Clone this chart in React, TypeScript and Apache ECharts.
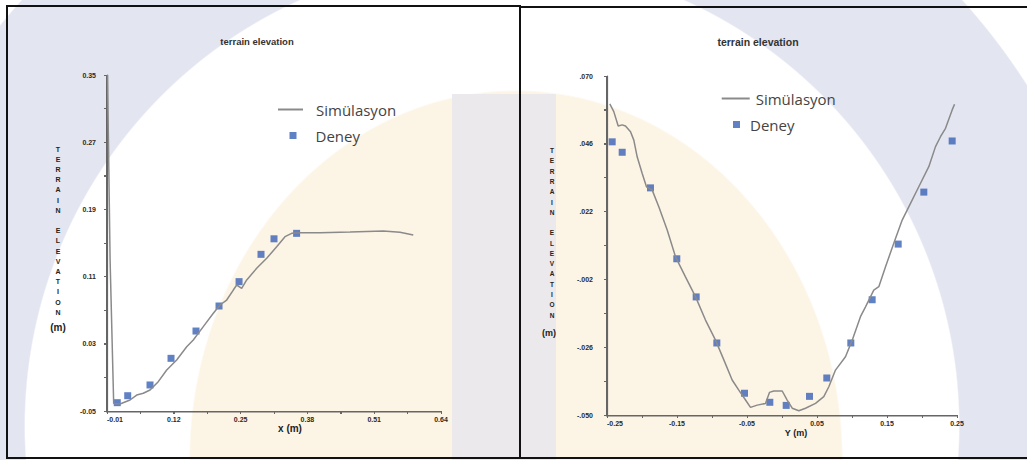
import React, { useEffect, useRef } from "react";
import * as echarts from "echarts";

// ---------- Left panel: x (m) ----------
const leftSimX = [-0.009, -0.004, 0.003, 0.0153, 0.0348, 0.0478, 0.0606, 0.0737, 0.0898, 0.1062, 0.1256, 0.1451, 0.1579, 0.1774, 0.1969, 0.2099, 0.2229, 0.2358, 0.2424, 0.2521, 0.2619, 0.2813, 0.3008, 0.3202, 0.3364, 0.3494, 0.3656, 0.4045, 0.463, 0.5277, 0.5602, 0.586];
const leftSimY = [0.35, 0.13, -0.041, -0.0417, -0.0369, -0.031, -0.0289, -0.025, -0.0151, -0.0012, 0.0107, 0.0265, 0.0345, 0.0504, 0.0663, 0.0762, 0.0821, 0.094, 0.1, 0.0961, 0.106, 0.1199, 0.1318, 0.1456, 0.1575, 0.1615, 0.1623, 0.1623, 0.163, 0.1643, 0.1627, 0.1595];
const leftExpX = [0.01, 0.0303, 0.0737, 0.1146, 0.1632, 0.208, 0.247, 0.2897, 0.315, 0.359];
const leftExpY = [-0.0401, -0.0318, -0.019, 0.0127, 0.0452, 0.075, 0.104, 0.1365, 0.155, 0.1615];
const leftXLabels = [-0.01, 0.12, 0.25, 0.38, 0.51, 0.64];
const leftYLabels = [-0.05, 0.03, 0.11, 0.19, 0.27, 0.35];

// ---------- Right panel: Y (m) ----------
const rightSimX = [-0.246, -0.2403, -0.234, -0.2283, -0.2236, -0.2164, -0.2117, -0.2069, -0.1997, -0.1936, -0.1854, -0.176, -0.164, -0.1521, -0.1379, -0.1236, -0.1093, -0.095, -0.0831, -0.0712, -0.0617, -0.0521, -0.045, -0.0354, -0.0236, -0.0179, -0.0117, 0.0003, 0.0074, 0.0146, 0.024, 0.0336, 0.0479, 0.0597, 0.0669, 0.0764, 0.0907, 0.1003, 0.1121, 0.1193, 0.1311, 0.1383, 0.1479, 0.1597, 0.1717, 0.1811, 0.1954, 0.2097, 0.2193, 0.2264, 0.2336, 0.2431, 0.2465];
const rightSimY = [0.0601, 0.0574, 0.0523, 0.0527, 0.0523, 0.0503, 0.0473, 0.0414, 0.0355, 0.0308, 0.0296, 0.0237, 0.0155, 0.006, -0.0011, -0.0081, -0.0164, -0.0235, -0.0305, -0.0376, -0.0412, -0.0447, -0.0473, -0.0465, -0.0459, -0.042, -0.0415, -0.0415, -0.0447, -0.0476, -0.0485, -0.0476, -0.0459, -0.0435, -0.04, -0.0341, -0.0294, -0.0235, -0.0152, -0.0117, -0.0058, -0.0046, 0.0025, 0.0108, 0.019, 0.0237, 0.0308, 0.0379, 0.045, 0.0485, 0.0515, 0.058, 0.06];
const rightExpX = [-0.2426, -0.2283, -0.1879, -0.1503, -0.1226, -0.0931, -0.0536, -0.0174, 0.006, 0.0393, 0.064, 0.0983, 0.1288, 0.166, 0.2026, 0.2431];
const rightExpY = [0.0467, 0.043, 0.0304, 0.0053, -0.0082, -0.0245, -0.0423, -0.0455, -0.0466, -0.0434, -0.0369, -0.0245, -0.0092, 0.0105, 0.0289, 0.047];
const rightXLabels = [-0.25, -0.15, -0.05, 0.05, 0.15, 0.25];
const rightYLabels = [-0.05, -0.026, -0.002, 0.022, 0.046, 0.07];

// axis ranges and tick steps: [min, max, interval]
const leftXRange = [-0.01, 0.64, 0.065];
const leftYRange = [-0.05, 0.35, 0.04];
const rightXRange = [-0.25, 0.25, 0.05];
const rightYRange = [-0.05, 0.07, 0.012];

const titleText = "terrain elevation";
const simName = "Simülasyon";
const expName = "Deney";
const yNameLetters = "T\nE\nR\nR\nA\nI\nN\n \nE\nL\nE\nV\nA\nT\nI\nO\nN";

const zip = (xs: number[], ys: number[]) => xs.map((x, i) => [x, ys[i]]);
const pick = (labels: number[], fmt: (v: number) => string) => (v: number) =>
  labels.some((l) => Math.abs(l - v) < 1e-6) ? fmt(v) : "";
const fmt2 = (v: number) => v.toFixed(2);
const fmt3 = (v: number) => v.toFixed(3).replace("0.", ".");

const LINE_COLOR = "#8a8a8a";
const MARK_COLOR = "#3a62b6";
const AXIS_COLOR = "#666666";
const labelFont = { fontSize: 7, fontWeight: "bold", color: "#2a2a2a", fontFamily: "Liberation Sans" };
const legendFont = { fontFamily: "Open Sans", fontSize: 15, color: "#444" };

const GRIDS = [
  { left: 107, top: 75, width: 334, height: 336, xr: leftXRange, yr: leftYRange },
  { left: 607, top: 76, width: 350, height: 339, xr: rightXRange, yr: rightYRange },
];

function makeAxis(g: number, range: number[], formatter: (v: number) => string, margin: number, isX: boolean) {
  const a: any = { gridIndex: g, type: "value", min: range[0], max: range[1], interval: range[2] };
  a.axisLine = { show: true, onZero: false, lineStyle: { color: AXIS_COLOR, width: 1.2 } };
  a.axisTick = { show: true, length: 3, lineStyle: { color: AXIS_COLOR } };
  a.axisLabel = { formatter, margin, ...labelFont };
  if (isX) a.axisLabel.alignMinLabel = "left";
  a.splitLine = { show: false };
  return a;
}

// axis base lines and tick marks as page-background layers, derived from the grid boxes
function axisLayers(): string[] {
  const img = `linear-gradient(${AXIS_COLOR}, ${AXIS_COLOR})`;
  const out: string[] = [];
  GRIDS.forEach((g) => {
    const bottom = g.top + g.height;
    out.push(`${img} ${g.left - 1}px ${g.top}px / 1.5px ${g.height + 1}px no-repeat`);
    out.push(`${img} ${g.left - 1}px ${bottom - 0.5}px / ${g.width + 1}px 1.5px no-repeat`);
    const nx = Math.round((g.xr[1] - g.xr[0]) / g.xr[2]);
    for (let k = 0; k <= nx; k++) {
      const x = g.left + (k * g.width) / nx;
      out.push(`${img} ${x - 0.5}px ${bottom}px / 1px 3px no-repeat`);
    }
    const ny = Math.round((g.yr[1] - g.yr[0]) / g.yr[2]);
    for (let k = 0; k <= ny; k++) {
      const y = bottom - (k * g.height) / ny;
      out.push(`${img} ${g.left - 3.5}px ${y - 0.5}px / 3px 1px no-repeat`);
    }
  });
  return out;
}

const watermark = [
  ...axisLayers(),
  "linear-gradient(#ebe9ec, #ebe9ec) 452px 94px / 104px 366px no-repeat",
  "radial-gradient(ellipse 327px 370px at 516px 460px, #fcf4e5 99.5%, rgba(255,255,255,0) 100%)",
  "radial-gradient(circle 468px at 492px 426px, #ffffff 99.7%, rgba(255,255,255,0) 100%)",
  "radial-gradient(circle 635px at 492px 426px, #e3e5f0 99.8%, rgba(255,255,255,0) 100%)",
  "#ffffff",
].join(", ");

const txt = (x: number, y: number, text: string, extra: any) => ({
  type: "text", x, y,
  style: { text, align: "center", verticalAlign: "middle", fontWeight: "bold", fontFamily: "Liberation Sans", fill: "#222", ...extra },
});

export default function App() {
  const ref = useRef<HTMLDivElement>(null);
  useEffect(() => {
    if (!ref.current) return;
    const chart = echarts.init(ref.current, null, { renderer: "svg" });
    const option: any = {
      animation: false,
      backgroundColor: "transparent",
      grid: GRIDS.map((g) => ({ left: g.left, top: g.top, width: g.width, height: g.height })),
      xAxis: [
        makeAxis(0, leftXRange, pick(leftXLabels, fmt2), 5, true),
        makeAxis(1, rightXRange, pick(rightXLabels, fmt2), 5, true),
      ],
      yAxis: [
        makeAxis(0, leftYRange, pick(leftYLabels, fmt2), 11, false),
        makeAxis(1, rightYRange, pick(rightYLabels, fmt3), 14, false),
      ],
      legend: [
        {
          data: [{ name: simName, icon: "rect" }],
          left: 278, top: 102, padding: 0, itemWidth: 25, itemHeight: 2, selectedMode: false,
          textStyle: { ...legendFont, padding: [0, 0, 0, 8] },
        },
        {
          data: [{ name: expName, icon: "rect" }],
          left: 289.5, top: 128, padding: 0, itemWidth: 7, itemHeight: 7, selectedMode: false,
          textStyle: { ...legendFont, padding: [0, 0, 0, 14] },
        },
        {
          data: [{ name: simName, icon: "rect" }],
          left: 721.7, top: 91, padding: 0, itemWidth: 28, itemHeight: 2, selectedMode: false,
          textStyle: { ...legendFont, padding: [0, 0, 0, 1] },
        },
        {
          data: [{ name: expName, icon: "rect" }],
          left: 733, top: 117, padding: 0, itemWidth: 7, itemHeight: 7, selectedMode: false,
          textStyle: { ...legendFont, padding: [0, 0, 0, 5] },
        },
      ],
      series: [
        {
          name: simName, type: "line", xAxisIndex: 0, yAxisIndex: 0,
          data: zip(leftSimX, leftSimY), showSymbol: false, color: LINE_COLOR,
          lineStyle: { color: LINE_COLOR, width: 1.5 },
        },
        {
          name: expName, type: "scatter", xAxisIndex: 0, yAxisIndex: 0,
          data: zip(leftExpX, leftExpY), symbol: "rect", symbolSize: 7, color: MARK_COLOR,
        },
        {
          name: simName, type: "line", xAxisIndex: 1, yAxisIndex: 1,
          data: zip(rightSimX, rightSimY), showSymbol: false, color: LINE_COLOR,
          lineStyle: { color: LINE_COLOR, width: 1.5 },
        },
        {
          name: expName, type: "scatter", xAxisIndex: 1, yAxisIndex: 1,
          data: zip(rightExpX, rightExpY), symbol: "rect", symbolSize: 7, color: MARK_COLOR,
        },
      ],
      graphic: [
        { type: "rect", silent: true, shape: { x: 7, y: 6, width: 513, height: 452 }, style: { fill: "transparent", stroke: "#111", lineWidth: 2 } },
        { type: "rect", silent: true, shape: { x: 520, y: 7, width: 512, height: 451 }, style: { fill: "transparent", stroke: "#111", lineWidth: 2 } },
        txt(257, 41, titleText, { fontSize: 9.5, fill: "#333" }),
        txt(758, 42, titleText, { fontSize: 10.5, fill: "#333" }),
        txt(58, 144, yNameLetters, { fontSize: 7, lineHeight: 10.2, verticalAlign: "top" }),
        txt(58, 327, "(m)", { fontSize: 10 }),
        txt(552, 145.6, yNameLetters, { fontSize: 6.5, lineHeight: 10.27, verticalAlign: "top" }),
        txt(549, 333, "(m)", { fontSize: 9 }),
        txt(290, 428, "x (m)", { fontSize: 10 }),
        txt(796, 433, "Y (m)", { fontSize: 9 }),
      ],
    };
    chart.setOption(option);
    return () => chart.dispose();
  }, []);
  return (
    <div
      ref={ref}
      style={{ position: "fixed", left: 0, top: 0, width: 1027, height: 460, background: watermark }}
    />
  );
}
